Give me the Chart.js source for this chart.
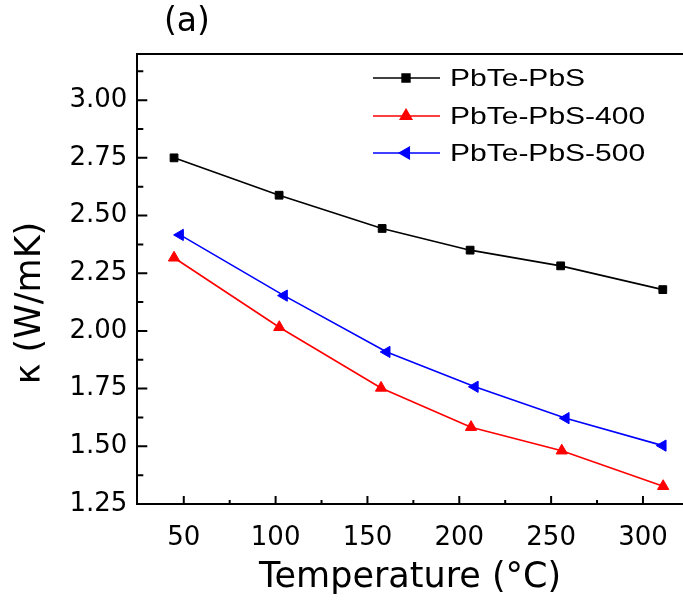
<!DOCTYPE html>
<html>
<head>
<meta charset="utf-8">
<script src="https://cdn.jsdelivr.net/npm/chart.js@4/dist/chart.umd.min.js"></script>
<style>
  html, body { margin: 0; padding: 0; background: #fff; overflow: hidden; }
  #wrap { width: 683px; height: 602px; position: relative; }
</style>
</head>
<body>
<div id="wrap"><canvas id="c" width="683" height="602"></canvas></div>
<script>
// Thermal conductivity vs temperature for three PbTe-PbS samples
const seriesNames = ['PbTe-PbS', 'PbTe-PbS-400', 'PbTe-PbS-500'];
const tempPbS   = [44.7, 101.9, 158.0, 205.9, 255.2, 310.8];
const kappaPbS  = [2.750, 2.588, 2.444, 2.350, 2.282, 2.179];
const temp400   = [44.7, 102.0, 157.4, 206.4, 255.8, 311.0];
const kappa400  = [2.317, 2.016, 1.753, 1.583, 1.481, 1.327];
const temp500   = [48.0, 104.6, 160.5, 208.5, 258.0, 310.8];
const kappa500  = [2.416, 2.153, 1.909, 1.758, 1.622, 1.503];
const xTicks = [50, 100, 150, 200, 250, 300];
const yTicks = [1.25, 1.50, 1.75, 2.00, 2.25, 2.50, 2.75, 3.00];
const yTitle = 'κ (W/mK)';
const xTitle = 'Temperature (°C)';
const panelTag = '(a)';

const FONT = "'DejaVu Sans', 'Liberation Sans', sans-serif";

function pts(xs, ys) { return xs.map((x, i) => ({ x: x, y: ys[i] })); }

// Inward major/minor tick marks, the top frame line, the legend, y title and panel tag
const decorations = {
  id: 'decorations',
  afterDraw(chart) {
    const { ctx, chartArea: a, scales: { x, y } } = chart;
    ctx.save();
    ctx.strokeStyle = '#000';
    ctx.lineWidth = 2;
    ctx.lineCap = 'butt';

    // top frame
    ctx.beginPath();
    ctx.moveTo(a.left - 1, a.top);
    ctx.lineTo(chart.width, a.top);
    ctx.stroke();

    // x ticks (pointing up into the plot)
    const xMinor = [];
    for (let i = 0; i < xTicks.length - 1; i++) xMinor.push((xTicks[i] + xTicks[i + 1]) / 2);
    xMinor.push(xTicks[xTicks.length - 1] + 25);
    ctx.beginPath();
    xTicks.forEach(v => { const p = x.getPixelForValue(v); ctx.moveTo(p, a.bottom); ctx.lineTo(p, a.bottom - 8); });
    xMinor.forEach(v => {
      if (v <= x.min + 0.5 || v >= x.max) return;
      const p = x.getPixelForValue(v); ctx.moveTo(p, a.bottom); ctx.lineTo(p, a.bottom - 4);
    });
    ctx.stroke();

    // y ticks (pointing right into the plot)
    const yMinor = [];
    for (let i = 0; i < yTicks.length - 1; i++) yMinor.push((yTicks[i] + yTicks[i + 1]) / 2);
    yMinor.push(yTicks[yTicks.length - 1] + 0.125);
    ctx.beginPath();
    yTicks.forEach(v => {
      if (v <= y.min) return;
      const p = y.getPixelForValue(v); ctx.moveTo(a.left, p); ctx.lineTo(a.left + 10, p);
    });
    yMinor.forEach(v => {
      if (v <= y.min || v >= y.max) return;
      const p = y.getPixelForValue(v); ctx.moveTo(a.left, p); ctx.lineTo(a.left + 6, p);
    });
    ctx.stroke();

    // legend: line segment with the series marker in its middle
    const rows = [78, 116, 153];
    chart.data.datasets.forEach((ds, i) => {
      const yy = rows[i];
      ctx.strokeStyle = ds.borderColor;
      ctx.lineWidth = ds.borderWidth;
      ctx.beginPath();
      ctx.moveTo(373, yy);
      ctx.lineTo(440, yy);
      ctx.stroke();
      ctx.fillStyle = ds.pointBackgroundColor;
      ctx.strokeStyle = ds.pointBorderColor;
      Chart.helpers.drawPoint(ctx, {
        pointStyle: ds.pointStyle,
        rotation: ds.pointRotation || 0,
        radius: ds.pointRadius,
        borderWidth: ds.pointBorderWidth
      }, 406, yy);
      ctx.save();
      ctx.translate(450, yy);
      ctx.scale(1.25, 1);
      ctx.fillStyle = '#000';
      ctx.font = "24px 'Liberation Sans', Arial, sans-serif";
      ctx.textBaseline = 'middle';
      ctx.textAlign = 'left';
      ctx.fillText(ds.label, 0, 1);
      ctx.restore();
    });

    // y axis title, rotated
    ctx.save();
    ctx.translate(31, 303);
    ctx.rotate(-Math.PI / 2);
    ctx.fillStyle = '#000';
    ctx.font = '35px ' + FONT;
    ctx.textBaseline = 'middle';
    ctx.textAlign = 'center';
    ctx.fillText(yTitle, 0, 0);
    ctx.restore();

    // panel tag
    ctx.fillStyle = '#000';
    ctx.font = '33px ' + FONT;
    ctx.textBaseline = 'middle';
    ctx.textAlign = 'left';
    ctx.fillText(panelTag, 164, 22);
    ctx.restore();
  }
};

new Chart(document.getElementById('c'), {
  type: 'line',
  data: {
    datasets: [
      {
        label: seriesNames[0], data: pts(tempPbS, kappaPbS),
        borderColor: '#000000', backgroundColor: '#000000', borderWidth: 1.6,
        pointStyle: 'rect', pointRadius: 5.5, pointBorderWidth: 1,
        pointBackgroundColor: '#000000', pointBorderColor: '#000000'
      },
      {
        label: seriesNames[1], data: pts(temp400, kappa400),
        borderColor: '#ff0000', backgroundColor: '#ff0000', borderWidth: 1.6,
        pointStyle: 'triangle', pointRadius: 6.5, pointBorderWidth: 1,
        pointBackgroundColor: '#ff0000', pointBorderColor: '#ff0000'
      },
      {
        label: seriesNames[2], data: pts(temp500, kappa500),
        borderColor: '#0000ff', backgroundColor: '#0000ff', borderWidth: 1.6,
        pointStyle: 'triangle', pointRotation: -90, pointRadius: 6.5, pointBorderWidth: 1,
        pointBackgroundColor: '#0000ff', pointBorderColor: '#0000ff'
      }
    ]
  },
  options: {
    responsive: false,
    animation: false,
    devicePixelRatio: 1,
    layout: { autoPadding: false, padding: { top: 54, right: 0, bottom: 0, left: 0 } },
    elements: { line: { tension: 0 } },
    plugins: { legend: { display: false }, tooltip: { enabled: false } },
    scales: {
      x: {
        type: 'linear', min: 24.7, max: 321.8,
        grid: { display: false, drawTicks: false },
        border: { display: true, color: '#000', width: 2 },
        afterBuildTicks: s => { s.ticks = xTicks.map(v => ({ value: v })); },
        afterFit: s => { s.height = 98; s.paddingLeft = 0; s.paddingRight = 0; },
        ticks: { color: '#000', font: { family: FONT, size: 26 }, padding: 19, maxRotation: 0,
                 callback: v => String(v) },
        title: { display: true, text: xTitle, color: '#000',
                 font: { family: FONT, size: 35 }, padding: { top: 0, bottom: 3 } }
      },
      y: {
        type: 'linear', min: 1.25, max: 3.2,
        grid: { display: false, drawTicks: false },
        border: { display: true, color: '#000', width: 2 },
        afterBuildTicks: s => { s.ticks = yTicks.map(v => ({ value: v })); },
        afterFit: s => { s.width = 137.3; s.paddingTop = 0; s.paddingBottom = 0; },
        ticks: { color: '#000', font: { family: FONT, size: 26 }, padding: 10,
                 callback: v => Number(v).toFixed(2) },
        title: { display: false }
      }
    }
  },
  plugins: [decorations]
});
</script>
</body>
</html>
